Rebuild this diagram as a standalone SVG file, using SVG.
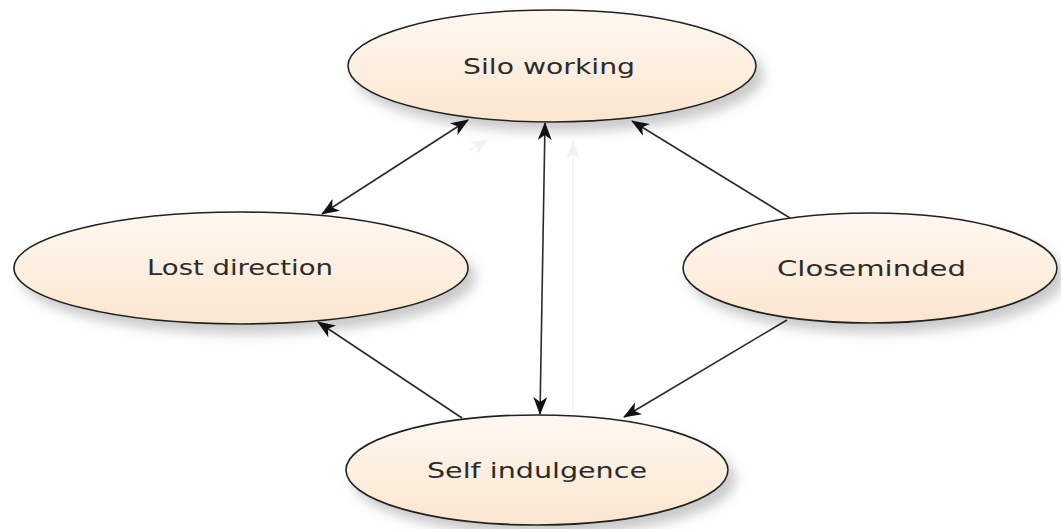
<svg xmlns="http://www.w3.org/2000/svg" width="1061" height="529" viewBox="0 0 1061 529">
  <defs>
    <linearGradient id="nodeFill" x1="0" y1="0" x2="0" y2="1">
      <stop offset="0" stop-color="#fef8f1"/>
      <stop offset="1" stop-color="#fbe6cf"/>
    </linearGradient>
    <filter id="shadow" x="-10%" y="-20%" width="125%" height="160%">
      <feDropShadow dx="7" dy="9" stdDeviation="6" flood-color="#7a7a7a" flood-opacity="0.4"/>
    </filter>
    <marker id="head" viewBox="0 0 18 14" markerWidth="18" markerHeight="14" refX="17" refY="7" orient="auto-start-reverse" markerUnits="userSpaceOnUse">
      <path d="M0,0 L18,7 L0,14 L5,7 Z" fill="#111"/>
    </marker>
    <marker id="faintHead" viewBox="0 0 18 14" markerWidth="18" markerHeight="14" refX="17" refY="7" orient="auto" markerUnits="userSpaceOnUse">
      <path d="M0,0 L18,7 L0,14 L5,7 Z" fill="#f2f2f2"/>
    </marker>
  </defs>
  <style>
    .node ellipse { fill: url(#nodeFill); stroke: #222; stroke-width: 1.6; filter: url(#shadow); }
    .node text { font-family: "DejaVu Sans", "Liberation Sans", sans-serif; font-size: 22px; fill: #2b2b2b; }
    .edge { stroke: #2a2a2a; stroke-width: 1.6; fill: none; }
    .faint { stroke: #f4f4f4; stroke-width: 2; fill: none; }
  </style>

  <rect width="1061" height="529" fill="#ffffff"/>

  <!-- faint residual strokes -->
  <g id="faint-strokes">
    <line class="faint" x1="573" y1="410" x2="573" y2="142" marker-end="url(#faintHead)"/>
    <line class="faint" x1="470" y1="150" x2="488" y2="140" marker-end="url(#faintHead)"/>
  </g>

  <g id="node-silo" class="node">
    <ellipse cx="552" cy="66" rx="204" ry="56"/>
    <text x="463" y="74" textLength="172" lengthAdjust="spacingAndGlyphs">Silo working</text>
  </g>
  <g id="node-lost" class="node">
    <ellipse cx="241" cy="268" rx="227" ry="56"/>
    <text x="147" y="275" textLength="186" lengthAdjust="spacingAndGlyphs">Lost direction</text>
  </g>
  <g id="node-closeminded" class="node">
    <ellipse cx="870" cy="268" rx="187" ry="55"/>
    <text x="777" y="276" textLength="189" lengthAdjust="spacingAndGlyphs">Closeminded</text>
  </g>
  <g id="node-self" class="node">
    <ellipse cx="537" cy="470" rx="191" ry="55"/>
    <text x="427" y="478" textLength="220" lengthAdjust="spacingAndGlyphs">Self indulgence</text>
  </g>

  <g id="connectors">
    <line class="edge" x1="322" y1="214" x2="468" y2="120" marker-start="url(#head)" marker-end="url(#head)"/>
    <line class="edge" x1="540" y1="414" x2="545" y2="123" marker-start="url(#head)" marker-end="url(#head)"/>
    <line class="edge" x1="790" y1="218" x2="632" y2="121" marker-end="url(#head)"/>
    <line class="edge" x1="787" y1="320" x2="624" y2="417" marker-end="url(#head)"/>
    <line class="edge" x1="462" y1="418" x2="318" y2="322" marker-end="url(#head)"/>
  </g>
</svg>
